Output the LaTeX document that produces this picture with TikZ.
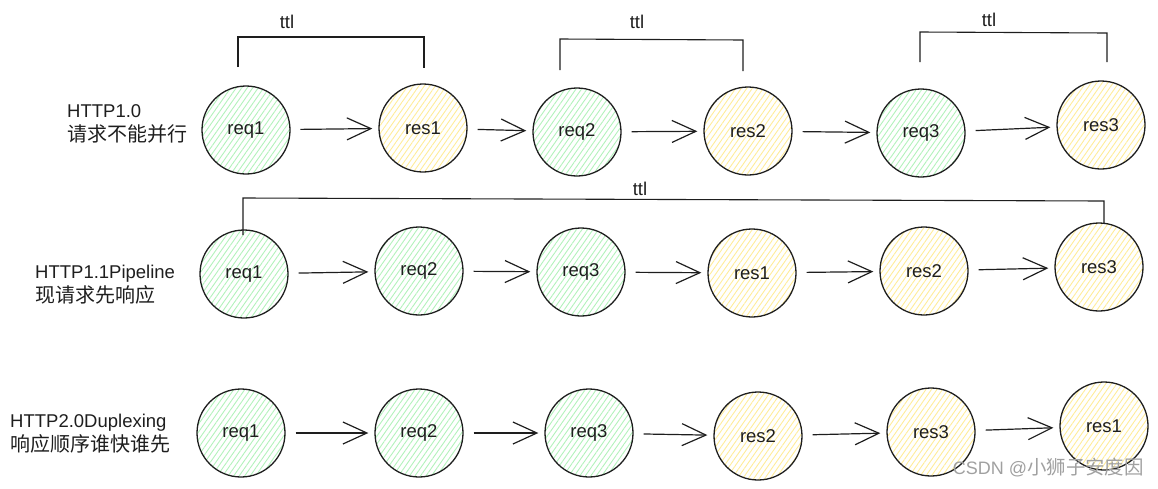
\documentclass[tikz,border=0pt]{standalone}
\usepackage{fontspec}
\setmainfont{Liberation Sans}
\newfontfamily\cjk[Scale=1.08]{Noto Sans CJK SC}
\usetikzlibrary{arrows.meta,patterns.meta}
\definecolor{ink}{HTML}{1E1E1E}
\definecolor{greenh}{HTML}{B2F2BB}
\definecolor{yellowh}{HTML}{FFEC99}
\definecolor{wm}{HTML}{A0A0A0}
\tikzset{
  bubble/.style={circle, draw=ink, line width=1.3pt, minimum size=88pt, inner sep=0pt,
    text=ink, font=\fontsize{18.5}{22}\selectfont},
  reqn/.style={bubble, pattern={Lines[angle=55,distance=4.5pt,line width=0.9pt]}, pattern color=greenh},
  resn/.style={bubble, pattern={Lines[angle=55,distance=4.5pt,line width=0.9pt]}, pattern color=yellowh},
  arr/.style={draw=ink, line width=1.2pt, -{Straight Barb[length=24pt,width=22pt,line width=1.2pt]},
    shorten <=10pt, shorten >=6pt},
  brk/.style={draw=ink, line width=1.1pt},
  lbl/.style={anchor=west, align=left, text=ink, font=\fontsize{18.5}{24}\selectfont, inner sep=0pt},
  ttlt/.style={text=ink, font=\fontsize{18.5}{22}\selectfont, inner sep=0pt}
}
\begin{document}
\begin{tikzpicture}[x=1pt,y=-1pt]
\useasboundingbox (0,0) rectangle (1158,488);
% Row 1
\node[lbl] (l1) at (67,124) {HTTP1.0\\{\cjk 请求不能并行}};
\node[reqn] (a1) at (246,130) {req1};
\node[resn] (a2) at (423,128) {res1};
\node[reqn] (a3) at (577,132) {req2};
\node[resn] (a4) at (748,131) {res2};
\node[reqn] (a5) at (921,133) {req3};
\node[resn] (a6) at (1101,125) {res3};
\draw[arr] (a1) -- (a2);
\draw[arr] (a2) -- (a3);
\draw[arr] (a3) -- (a4);
\draw[arr] (a4) -- (a5);
\draw[arr] (a5) -- (a6);
\coordinate (b1a) at (238,67); \coordinate (b1b) at (238,37);
\coordinate (b1c) at (424,37); \coordinate (b1d) at (424,68);
\draw[brk] (b1a) -- (b1b) -- (b1c) -- (b1d);
\node[ttlt] (t1) at (287,22) {ttl};
\coordinate (b2a) at (560,70); \coordinate (b2b) at (560,39);
\coordinate (b2c) at (743,40); \coordinate (b2d) at (743,71);
\draw[brk] (b2a) -- (b2b) -- (b2c) -- (b2d);
\node[ttlt] (t2) at (637,22) {ttl};
\coordinate (b3a) at (920,62); \coordinate (b3b) at (920,32);
\coordinate (b3c) at (1107,33); \coordinate (b3d) at (1107,62);
\draw[brk] (b3a) -- (b3b) -- (b3c) -- (b3d);
\node[ttlt] (t3) at (989,20) {ttl};
% Row 2
\node[lbl] (l2) at (35,285) {HTTP1.1Pipeline\\{\cjk 现请求先响应}};
\node[reqn] (c1) at (244,274) {req1};
\node[reqn] (c2) at (419,271) {req2};
\node[reqn] (c3) at (581,272) {req3};
\node[resn] (c4) at (752,273) {res1};
\node[resn] (c5) at (924,271) {res2};
\node[resn] (c6) at (1099,267) {res3};
\draw[arr] (c1) -- (c2);
\draw[arr] (c2) -- (c3);
\draw[arr] (c3) -- (c4);
\draw[arr] (c4) -- (c5);
\draw[arr] (c5) -- (c6);
\coordinate (b4a) at (243,235); \coordinate (b4b) at (243,198);
\coordinate (b4c) at (1104,201); \coordinate (b4d) at (1104,223);
\draw[brk] (b4a) -- (b4b) -- (b4c) -- (b4d);
\node[ttlt] (t4) at (640,189) {ttl};
% Row 3
\node[lbl] (l3) at (10,434) {HTTP2.0Duplexing\\{\cjk 响应顺序谁快谁先}};
\node[reqn] (d1) at (241,433) {req1};
\node[reqn] (d2) at (419,433) {req2};
\node[reqn] (d3) at (589,433) {req3};
\node[resn] (d4) at (758,436) {res2};
\node[resn] (d5) at (931,432) {res3};
\node[resn] (d6) at (1104,426) {res1};
\draw[arr] (d1) -- (d2);
\draw[arr] (d2) -- (d3);
\draw[arr] (d3) -- (d4);
\draw[arr] (d4) -- (d5);
\draw[arr] (d5) -- (d6);
\node[anchor=east, text=wm, inner sep=0pt, font=\fontsize{18}{22}\selectfont] (wmk) at (1144,468) {CSDN @{\cjk 小狮子安度因}};
\end{tikzpicture}
\end{document}
